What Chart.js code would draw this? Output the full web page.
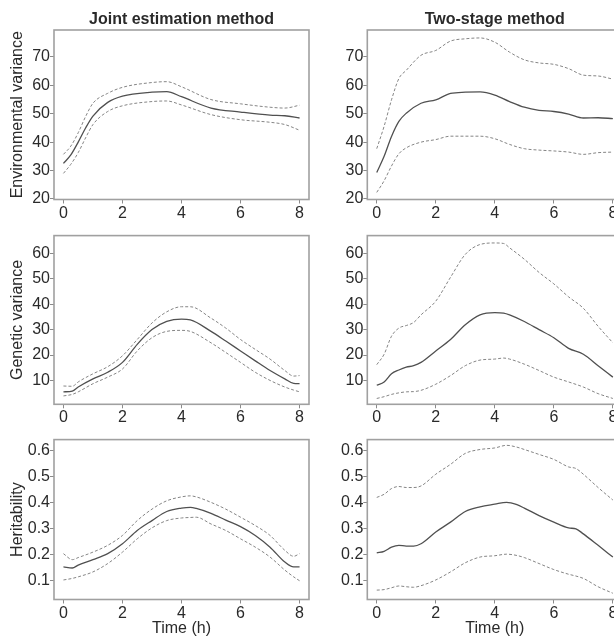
<!DOCTYPE html>
<html>
<head>
<meta charset="utf-8">
<script src="https://cdn.jsdelivr.net/npm/chart.js@4.4.0/dist/chart.umd.min.js"></script>
<style>
html, body { margin: 0; padding: 0; background: #fff; width: 614px; height: 639px; overflow: hidden; position: relative; }
canvas { position: absolute; }
</style>
</head>
<body>
<canvas id="envJoint" width="314" height="226" style="left:0;top:0"></canvas>
<canvas id="envTwo" width="320" height="226" style="left:314px;top:0"></canvas>
<canvas id="genJoint" width="314" height="204" style="left:0;top:226px"></canvas>
<canvas id="genTwo" width="320" height="204" style="left:314px;top:226px"></canvas>
<canvas id="herJoint" width="314" height="209" style="left:0;top:430px"></canvas>
<canvas id="herTwo" width="320" height="209" style="left:314px;top:430px"></canvas>
<script>
// tick labels
var timeTicks = [0, 2, 4, 6, 8];
var envTicks = [20, 30, 40, 50, 60, 70];
var genTicks = [10, 20, 30, 40, 50, 60];
var herTicks = [0.1, 0.2, 0.3, 0.4, 0.5, 0.6];

// Environmental variance, joint estimation
var envJointTime  = [0, 0.25, 0.5, 0.75, 1, 1.5, 2, 3, 3.5, 4, 5, 6, 7, 7.5, 8];
var envJointMean  = [32.5, 35.5, 40, 45, 49.2, 54, 56.2, 57.6, 57.8, 56, 52, 50.6, 49.5, 49.3, 48.5];
var envJointUpper = [35.7, 38.6, 43.3, 49, 53.7, 57.2, 59.3, 61, 61.3, 59.5, 55, 53.5, 52.3, 52, 53];
var envJointLower = [29, 32.2, 36.3, 41.5, 46.2, 50.8, 52.8, 54.3, 54.5, 53.1, 49.7, 47.9, 47, 46.2, 44.2];

// Environmental variance, two-stage
var envTwoTime  = [0, 0.25, 0.5, 0.75, 1, 1.5, 2, 2.5, 3, 3.5, 4, 4.5, 5, 5.5, 6, 6.5, 7, 7.5, 8];
var envTwoMean  = [29.3, 35, 42, 47.3, 50.2, 53.7, 54.9, 57.2, 57.6, 57.7, 56.6, 54.3, 52.3, 51.2, 50.8, 49.9, 48.5, 48.6, 48.3];
var envTwoUpper = [37.7, 45.6, 54.9, 62.4, 65.3, 70.6, 72.3, 75.6, 76.4, 76.7, 75.2, 71.7, 69, 67.9, 67.4, 65.9, 63.6, 63.3, 62.2];
var envTwoLower = [22.3, 26.4, 31.6, 35.9, 38, 40, 40.9, 42.1, 42.1, 42.1, 41.2, 39.2, 37.7, 37.2, 36.9, 36.5, 35.7, 36.3, 36.5];

// Genetic variance, joint estimation
var genJointTime  = [0, 0.3, 0.5, 1, 1.5, 2, 2.5, 3, 3.5, 4, 4.3, 5, 5.5, 6, 6.5, 7, 7.5, 7.8, 8];
var genJointMean  = [5.5, 5.8, 7.4, 10.6, 13.2, 17.1, 24.2, 30, 33.2, 34.1, 33.8, 29.3, 25.5, 21.6, 17.7, 13.9, 10.6, 8.8, 8.7];
var genJointUpper = [7.8, 7.7, 9.4, 12.6, 15.4, 19.7, 26.1, 32.6, 37, 39, 39, 34.5, 30.6, 26.1, 22.2, 18.4, 13.9, 11.7, 11.9];
var genJointLower = [3.9, 4.5, 5.5, 8.7, 11.3, 14.5, 21.6, 26.8, 29.3, 29.7, 29.3, 24.8, 21, 17.1, 13.2, 10, 7.4, 6.2, 5.5];

// Genetic variance, two-stage
var genTwoTime  = [0, 0.25, 0.5, 0.75, 1, 1.25, 1.5, 2, 2.5, 3, 3.5, 4, 4.3, 4.5, 5, 5.5, 6, 6.5, 7, 7.5, 8];
var genTwoMean  = [8.1, 9.4, 12.6, 14.1, 15.2, 15.8, 17.1, 21.6, 26.1, 31.9, 35.8, 36.7, 36.5, 35.8, 33.2, 30, 26.8, 22.6, 20.3, 15.8, 11.3];
var genTwoUpper = [16.2, 20.3, 27.4, 30.6, 31.6, 32.8, 35.8, 41.2, 50.6, 59.6, 63.5, 64.1, 63.9, 62.2, 57.7, 52.5, 48, 42.9, 38.4, 31.3, 24.8];
var genTwoLower = [2.9, 3.6, 4.5, 5.1, 5.5, 5.6, 6.1, 8.5, 11.9, 15.8, 18, 18.4, 18.8, 18.4, 16.4, 13.9, 11.3, 9.4, 7.4, 4.8, 2.9];

// Heritability, joint estimation
var herJointTime  = [0, 0.3, 0.5, 1, 1.5, 2, 2.5, 3, 3.5, 4, 4.3, 4.5, 5, 5.5, 6, 6.5, 7, 7.5, 7.8, 8];
var herJointMean  = [0.153, 0.149, 0.16, 0.181, 0.204, 0.242, 0.293, 0.331, 0.366, 0.379, 0.382, 0.378, 0.359, 0.333, 0.308, 0.274, 0.229, 0.172, 0.153, 0.153];
var herJointUpper = [0.204, 0.181, 0.189, 0.21, 0.236, 0.274, 0.331, 0.375, 0.407, 0.422, 0.426, 0.422, 0.401, 0.375, 0.344, 0.312, 0.274, 0.217, 0.194, 0.204];
var herJointLower = [0.103, 0.109, 0.115, 0.134, 0.166, 0.21, 0.261, 0.303, 0.331, 0.341, 0.343, 0.344, 0.318, 0.293, 0.261, 0.229, 0.191, 0.141, 0.115, 0.1];

// Heritability, two-stage
var herTwoTime  = [0, 0.25, 0.5, 0.75, 1, 1.25, 1.5, 2, 2.5, 3, 3.5, 4, 4.4, 4.75, 5, 5.5, 6, 6.5, 6.75, 7, 7.5, 8];
var herTwoMean  = [0.207, 0.213, 0.229, 0.236, 0.233, 0.233, 0.242, 0.287, 0.325, 0.366, 0.384, 0.394, 0.401, 0.392, 0.379, 0.35, 0.325, 0.303, 0.299, 0.28, 0.236, 0.191];
var herTwoUpper = [0.42, 0.432, 0.454, 0.462, 0.458, 0.458, 0.464, 0.509, 0.547, 0.589, 0.604, 0.61, 0.62, 0.613, 0.604, 0.585, 0.566, 0.537, 0.531, 0.509, 0.458, 0.41];
var herTwoLower = [0.064, 0.066, 0.073, 0.08, 0.077, 0.075, 0.081, 0.103, 0.134, 0.169, 0.191, 0.196, 0.202, 0.197, 0.189, 0.166, 0.143, 0.125, 0.118, 0.109, 0.077, 0.052];

var textColor = "#2a2a2a";
var fontFamily = "'Liberation Sans', Arial, sans-serif";

// frame round the plot area
var boxPlugin = {
    id: "box",
    afterDraw: function(chart) {
        var a = chart.chartArea, ctx = chart.ctx;
        ctx.save();
        ctx.strokeStyle = "#a0a0a0";
        ctx.lineWidth = 1.6;
        ctx.strokeRect(a.left, a.top, a.right - a.left, a.bottom - a.top);
        ctx.restore();
    }
};

function pts(xs, ys) {
    return xs.map(function(x, i) { return { x: x, y: ys[i] }; });
}

function line(xs, ys, dashed) {
    return {
        data: pts(xs, ys),
        borderColor: dashed ? "#858585" : "#505050",
        borderWidth: dashed ? 1 : 1.3,
        borderDash: dashed ? [3, 2] : [],
        pointRadius: 0,
        tension: 0.4,
        cubicInterpolationMode: "monotone",
        fill: false
    };
}

function panel(id, time, mean, upper, lower, yMin, yMax, yTicks, o) {
    var right = o.col === 1 ? 5 : 11.7;
    var yWidth = o.col === 1 ? 54 : 53.3;
    new Chart(document.getElementById(id), {
        type: "line",
        data: { datasets: [line(time, upper, true), line(time, mean, false), line(time, lower, true)] },
        options: {
            responsive: false,
            animation: false,
            layout: { padding: { top: o.padTop, right: right, bottom: 0, left: 0 } },
            plugins: {
                legend: { display: false },
                tooltip: { enabled: false },
                title: {
                    display: !!o.title,
                    text: o.title,
                    fullSize: false,
                    color: textColor,
                    font: { family: fontFamily, size: 16, weight: "bold", lineHeight: 1.2 },
                    padding: { top: 10.4, bottom: 0.4 }
                }
            },
            scales: {
                x: {
                    type: "linear",
                    min: -0.32,
                    max: 8.32,
                    afterBuildTicks: function(s) { s.ticks = timeTicks.map(function(v) { return { value: v }; }); },
                    afterFit: function(s) { s.height = o.xHeight; },
                    grid: { drawOnChartArea: false, drawTicks: true, tickLength: 4, color: "#8a8a8a" },
                    border: { display: false },
                    ticks: { color: textColor, padding: 0, maxRotation: 0, font: { family: fontFamily, size: 16 } },
                    title: {
                        display: !!o.xTitle,
                        text: o.xTitle,
                        color: textColor,
                        font: { family: fontFamily, size: 16, lineHeight: 1.2 },
                        padding: { top: 0, bottom: 1 }
                    }
                },
                y: {
                    min: yMin,
                    max: yMax,
                    afterBuildTicks: function(s) { s.ticks = yTicks.map(function(v) { return { value: v }; }); },
                    afterFit: function(s) { s.width = yWidth; },
                    grid: { drawOnChartArea: false, drawTicks: true, tickLength: 4, color: "#8a8a8a" },
                    border: { display: false },
                    ticks: { color: textColor, padding: 0, font: { family: fontFamily, size: 16 }, callback: function(v) { return String(v); } },
                    title: {
                        display: !!o.yTitle,
                        text: o.yTitle,
                        color: textColor,
                        font: { family: fontFamily, size: 16, lineHeight: 1.2 },
                        padding: { top: 8, bottom: 0 }
                    }
                }
            }
        },
        plugins: [boxPlugin]
    });
}

panel("envJoint", envJointTime, envJointMean, envJointUpper, envJointLower, 19.8, 79.5, envTicks,
      { col: 1, padTop: 0, xHeight: 26.5, title: "Joint estimation method", yTitle: "Environmental variance" });
panel("envTwo", envTwoTime, envTwoMean, envTwoUpper, envTwoLower, 19.8, 79.5, envTicks,
      { col: 2, padTop: 0, xHeight: 26.5, title: "Two-stage method" });
panel("genJoint", genJointTime, genJointMean, genJointUpper, genJointLower, 0.6, 67, genTicks,
      { col: 1, padTop: 6.7, xHeight: 25.7, yTitle: "Genetic variance" });
panel("genTwo", genTwoTime, genTwoMean, genTwoUpper, genTwoLower, 0.6, 67, genTicks,
      { col: 2, padTop: 6.7, xHeight: 25.7 });
panel("herJoint", herJointTime, herJointMean, herJointUpper, herJointLower, 0.028, 0.642, herTicks,
      { col: 1, padTop: 8.3, xHeight: 39.5, yTitle: "Heritability", xTitle: "Time (h)" });
panel("herTwo", herTwoTime, herTwoMean, herTwoUpper, herTwoLower, 0.028, 0.642, herTicks,
      { col: 2, padTop: 8.3, xHeight: 39.5, xTitle: "Time (h)" });
</script>
</body>
</html>
